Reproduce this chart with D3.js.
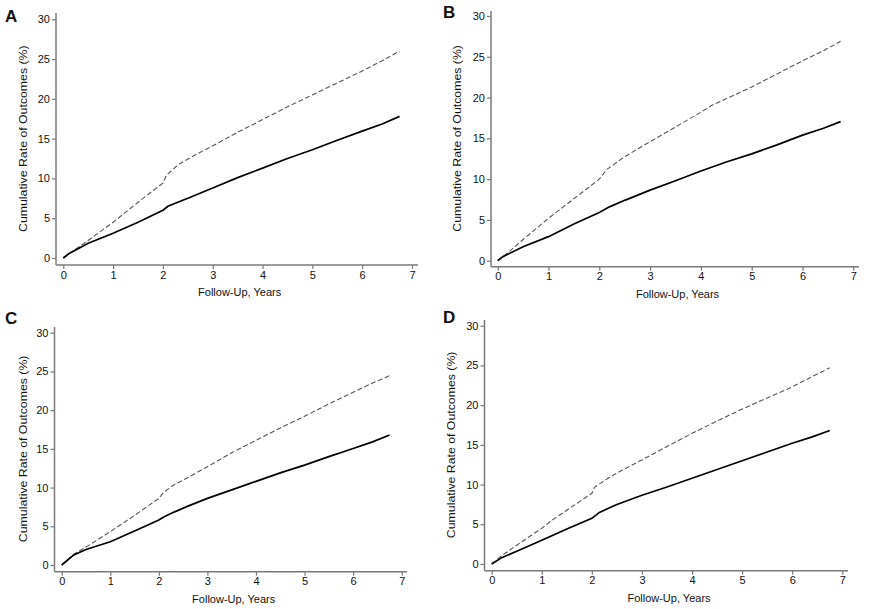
<!DOCTYPE html>
<html>
<head>
<meta charset="utf-8">
<script src="https://cdn.jsdelivr.net/npm/d3@7"></script>
<style>
  body { margin: 0; background: #fff; }
  svg { display: block; }
  text { font-family: "Liberation Sans", Arial, sans-serif; fill: #111; }
</style>
</head>
<body>
<svg id="chart" width="886" height="609"></svg>
<script>
// ---- Data ----
const panelLabels = ["A", "B", "C", "D"];
const xTicks = [0, 1, 2, 3, 4, 5, 6, 7];
const yTicks = [0, 5, 10, 15, 20, 25, 30];
const xTitle = "Follow-Up, Years";
const yTitle = "Cumulative Rate of Outcomes (%)";

// Dashed series (higher cumulative rate)
const dashedA = [[0,0],[0.2,0.9],[0.5,2.2],[1,4.5],[1.3,6.0],[1.6,7.5],[2,9.4],[2.07,10.4],[2.3,11.7],[2.6,12.8],[3,14.1],[3.5,15.8],[4,17.4],[4.5,19.0],[5,20.5],[5.5,22.0],[6,23.5],[6.4,24.8],[6.75,26.0]];
const dashedB = [[0,0],[0.15,0.7],[0.5,2.6],[1,5.2],[1.5,7.6],[2,10.0],[2.15,11.2],[2.5,12.75],[3,14.6],[3.5,16.4],[4,18.2],[4.2,19.0],[5,21.3],[5.5,22.9],[6,24.5],[6.4,25.7],[6.75,26.9]];
const dashedC = [[0,0],[0.25,1.4],[0.6,2.7],[1,4.3],[1.5,6.4],[2,8.6],[2.1,9.4],[2.3,10.3],[2.6,11.3],[3,12.7],[3.5,14.5],[4,16.1],[4.5,17.7],[5,19.2],[5.5,20.8],[6,22.3],[6.4,23.5],[6.75,24.45]];
const dashedD = [[0,0],[0.2,1.05],[0.6,2.8],[1,4.5],[1.2,5.5],[1.6,7.2],[2,8.9],[2.05,9.65],[2.3,10.7],[2.6,11.8],[3,13.1],[3.5,14.8],[4,16.45],[4.5,18.0],[5,19.5],[5.5,20.9],[6,22.3],[6.4,23.6],[6.75,24.7]];

// Solid series (lower cumulative rate)
const solidA = [[0,0],[0.1,0.5],[0.5,1.85],[1,3.1],[1.5,4.5],[2,6.0],[2.1,6.5],[2.5,7.5],[3,8.8],[3.5,10.1],[4,11.3],[4.5,12.5],[5,13.6],[5.5,14.8],[6,15.95],[6.4,16.85],[6.75,17.8]];
const solidB = [[0,0],[0.1,0.5],[0.5,1.7],[1,2.95],[1.5,4.5],[2,5.9],[2.2,6.6],[2.5,7.4],[3,8.65],[3.5,9.8],[4,11.0],[4.5,12.1],[5,13.1],[5.5,14.2],[6,15.4],[6.4,16.2],[6.75,17.05]];
const solidC = [[0,0],[0.25,1.3],[0.5,2.0],[1,3.0],[1.5,4.4],[2,5.8],[2.1,6.2],[2.3,6.8],[2.6,7.6],[3,8.6],[3.5,9.7],[4,10.8],[4.5,11.9],[5,12.9],[5.5,14.0],[6,15.05],[6.4,15.9],[6.75,16.8]];
const solidD = [[0,0],[0.2,0.8],[0.5,1.6],[1,3.0],[1.5,4.4],[2,5.75],[2.15,6.5],[2.5,7.5],[3,8.65],[3.5,9.7],[4,10.8],[4.5,11.9],[5,13.0],[5.5,14.1],[6,15.2],[6.4,16.0],[6.75,16.8]];

const dashedSeries = [dashedA, dashedB, dashedC, dashedD];
const solidSeries = [solidA, solidB, solidC, solidD];

// ---- Layout (pixel frames for each panel) ----
// x0/x7: pixel of year 0 / year 7; y0/y30: pixel of 0% / 30%
const frames = [
  { axisX: 56,   axisY: 265,   x0: 63.3,  x7: 412,   y0: 258,   y30: 19.3,  top: 13,  right: 418, lx: 5,   ly: 22,  yTitleX: 23 },
  { axisX: 491,  axisY: 266.7, x0: 497.7, x7: 853.3, y0: 260.7, y30: 16,    top: 11,  right: 859, lx: 443, ly: 18,  yTitleX: 457 },
  { axisX: 54.5, axisY: 571.7, x0: 61.7,  x7: 401.7, y0: 565,   y30: 332.7, top: 327, right: 407, lx: 5,   ly: 324, yTitleX: 23 },
  { axisX: 484.5,axisY: 570.7, x0: 491.7, x7: 842.3, y0: 564,   y30: 325.7, top: 320, right: 848, lx: 443, ly: 323, yTitleX: 451 }
];

const svg = d3.select("#chart");

frames.forEach((f, i) => {
  const x = d3.scaleLinear().domain([0, 7]).range([f.x0, f.x7]);
  const y = d3.scaleLinear().domain([0, 30]).range([f.y0, f.y30]);
  const g = svg.append("g");

  // axis lines
  g.append("line").attr("x1", f.axisX).attr("x2", f.axisX).attr("y1", f.top).attr("y2", f.axisY)
    .attr("stroke", "#7a7a7a").attr("stroke-width", 1.5);
  g.append("line").attr("x1", f.axisX).attr("x2", f.right).attr("y1", f.axisY).attr("y2", f.axisY)
    .attr("stroke", "#7a7a7a").attr("stroke-width", 1.5);

  // y axis ticks + labels
  const yAxis = d3.axisLeft(y).tickValues(yTicks).tickSize(4).tickPadding(2).tickFormat(d3.format("d"));
  const ya = g.append("g").attr("transform", `translate(${f.axisX},0)`).call(yAxis);
  ya.select(".domain").remove();
  ya.selectAll(".tick line").attr("stroke", "#7a7a7a").attr("stroke-width", 1.2);
  ya.selectAll(".tick text").attr("font-size", 11).attr("fill", "#111")
    .attr("font-family", "Liberation Sans, Arial, sans-serif");

  // x axis ticks + labels
  const xAxis = d3.axisBottom(x).tickValues(xTicks).tickSize(4).tickPadding(2).tickFormat(d3.format("d"));
  const xa = g.append("g").attr("transform", `translate(0,${f.axisY})`).call(xAxis);
  xa.select(".domain").remove();
  xa.selectAll(".tick line").attr("stroke", "#7a7a7a").attr("stroke-width", 1.2);
  xa.selectAll(".tick text").attr("font-size", 11).attr("fill", "#111")
    .attr("font-family", "Liberation Sans, Arial, sans-serif");

  // titles
  g.append("text").attr("x", (f.x0 + f.x7) / 2 + 2).attr("y", f.axisY + 31)
    .attr("text-anchor", "middle").attr("font-size", 11).text(xTitle);
  g.append("text")
    .attr("transform", `translate(${f.yTitleX},${(f.y0 + f.y30) / 2}) rotate(-90) scale(1.12,1)`)
    .attr("text-anchor", "middle").attr("dy", "0.35em").attr("font-size", 11).text(yTitle);

  // panel letter
  g.append("text").attr("x", f.lx).attr("y", f.ly).attr("font-size", 17).attr("font-weight", "bold")
    .text(panelLabels[i]);

  const line = d3.line().x(d => x(d[0])).y(d => y(d[1])).curve(d3.curveLinear);

  g.append("path").datum(dashedSeries[i]).attr("d", line)
    .attr("fill", "none").attr("stroke", "#555").attr("stroke-width", 1.1)
    .attr("stroke-dasharray", "5,2.5");
  g.append("path").datum(solidSeries[i]).attr("d", line)
    .attr("fill", "none").attr("stroke", "#000").attr("stroke-width", 1.7);
});
</script>
</body>
</html>
